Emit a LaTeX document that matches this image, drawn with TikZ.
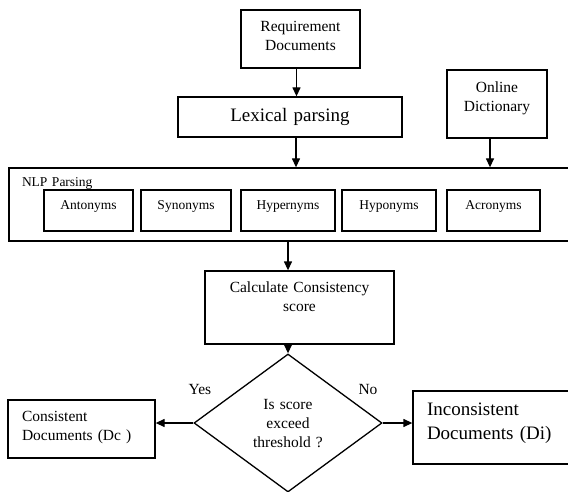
\documentclass[tikz,border=0pt]{standalone}
\usepackage{fontspec}
\setmainfont{Liberation Serif}
\usetikzlibrary{arrows.meta,shapes.geometric}

\newcommand\fsnorm{\fontsize{15.5}{19}\selectfont}
\newcommand\fsbig{\fontsize{19}{24}\selectfont}
\newcommand\fssmall{\fontsize{13.5}{16}\selectfont}

\tikzset{
  box/.style={draw,inner xsep=0pt,inner ysep=0pt,align=center},
  leftbox/.style={draw,inner xsep=14pt,inner ysep=0pt,align=left},
  subbox/.style={box,font=\fssmall,text width=#1,text height=20pt,text depth=21pt},
  flow/.style={->,line width=1.3pt}
}

\begin{document}
\begin{tikzpicture}[x=1pt,y=-1pt,line width=1.3pt,>={Triangle[length=9pt,width=8pt]}]
\useasboundingbox (0,0) rectangle (568,492);
% ---------- input boxes ----------
\node[box,font=\fsnorm,text width=119pt,text height=22pt,text depth=36pt] (req) at (300.5,39) {Requirement\\Documents};
\node[box,font=\fsbig,text width=224pt,text height=25pt,text depth=15pt] (lex) at (290,117) {Lexical parsing};
\node[box,font=\fsnorm,text width=100pt,text height=22.5pt,text depth=45.5pt] (dict) at (497,104) {Online\\Dictionary};
% ---------- NLP parsing block ----------
\node[leftbox,inner xsep=13pt,font=\fssmall,text width=535pt,text height=19pt,text depth=54pt] (nlp) at (289.5,204.5) {NLP Parsing};
\node[subbox=89pt] (ant) at (88.5,210.5) {Antonyms};
\node[subbox=90pt] (syn) at (186,210.5) {Synonyms};
\node[subbox=94pt] (hyper) at (288,210.5) {Hypernyms};
\node[subbox=94pt] (hypo) at (389,210.5) {Hyponyms};
\node[subbox=93pt] (acro) at (493.5,210.5) {Acronyms};
% ---------- score and decision ----------
\node[box,font=\fsnorm,text width=189pt,text height=21pt,text depth=52pt] (calc) at (299.5,307.5) {Calculate Consistency\\score};
\node[diamond,draw,inner sep=0pt,minimum width=188pt,minimum height=138pt,align=center,font=\fsnorm,text width=80pt,text height=11pt,text depth=39pt] (dec) at (288,423) {Is score\\exceed\\threshold ?};
% ---------- outputs ----------
\node[leftbox,font=\fsnorm,text width=119pt,text height=21.5pt,text depth=36.5pt] (cons) at (81.5,429) {Consistent\\Documents (Dc )};
\node[leftbox,font=\fsbig,text width=129pt,text height=24.5pt,text depth=48.5pt] (incons) at (491.5,427.5) {Inconsistent\\Documents (Di)};
\node[font=\fsnorm] (yes) at (200,389) {Yes};
\node[font=\fsnorm] (no) at (368,389) {No};
% ---------- connectors ----------
\draw[flow] ([xshift=-4pt]req.south) -- ([xshift=-4pt]req.south |- lex.north);
\draw[flow] ([xshift=6pt]lex.south) -- ([xshift=6pt]lex.south |- nlp.north);
\draw[flow] ([xshift=-7pt]dict.south) -- ([xshift=-7pt]dict.south |- nlp.north);
\draw[flow] (dec.north |- nlp.south) -- (dec.north |- calc.north);
\draw[flow] (dec.north |- calc.south) -- (dec.north);
\draw[flow] (dec.west) -- (dec.west -| cons.east);
\draw[flow] (dec.east) -- (dec.east -| incons.west);
\end{tikzpicture}
\end{document}
